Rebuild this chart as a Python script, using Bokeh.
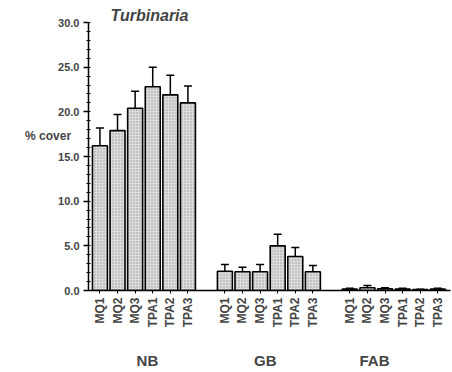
from bokeh.plotting import figure
from bokeh.models import (ColumnDataSource, Whisker, TeeHead, FixedTicker, LinearAxis,
                          NumeralTickFormatter, Range1d)
from bokeh.embed import file_html
from bokeh.resources import INLINE

groups = ["NB", "GB", "FAB"]
sites = ["MQ1", "MQ2", "MQ3", "TPA1", "TPA2", "TPA3"]
nb_mean = [16.2, 17.9, 20.4, 22.8, 21.9, 21.0]
nb_err = [2.0, 1.8, 1.9, 2.2, 2.2, 1.9]
gb_mean = [2.15, 2.1, 2.1, 5.0, 3.8, 2.1]
gb_err = [0.75, 0.5, 0.8, 1.3, 1.0, 0.7]
fab_mean = [0.15, 0.3, 0.2, 0.15, 0.1, 0.15]
fab_err = [0.1, 0.25, 0.1, 0.1, 0.05, 0.1]
y_ticks = [0, 5, 10, 15, 20, 25, 30]

PITCH = 10
GROUP_STEP = 71
xs, means, uppers, labels = [], [], [], {}
for g, (m, e) in enumerate([(nb_mean, nb_err), (gb_mean, gb_err), (fab_mean, fab_err)]):
    for k in range(len(sites)):
        x = g * GROUP_STEP + k * PITCH
        xs.append(x)
        means.append(m[k])
        uppers.append(m[k] + e[k])
        labels[x] = sites[k]

src = ColumnDataSource(dict(x=xs, top=means, lower=means, upper=uppers))

FONT = "Liberation Sans"

p = figure(width=452, height=372, output_backend="svg", toolbar_location=None,
           x_range=Range1d(-6.5, 199.2), y_range=Range1d(0, 30),
           min_border_left=88, min_border_right=2, min_border_top=22, min_border_bottom=82,
           x_axis_type=None, title="Turbinaria")
p.outline_line_color = None
p.grid.visible = False
p.background_fill_color = "white"
p.border_fill_color = "white"
p.title.text_font = FONT
p.title.text_font_style = "bold italic"
p.title.text_font_size = "16px"
p.title.align = "left"
p.title.offset = 22
p.title.standoff = -3

p.vbar(x="x", top="top", bottom=0, width=8.5, source=src,
       fill_color="#dcdcdc", line_color="black", line_width=1.6,
       hatch_pattern="dot", hatch_color="#555555", hatch_scale=3, hatch_weight=0.8, hatch_alpha=0.5)

w = Whisker(base="x", lower="lower", upper="upper", source=src, dimension="height",
            line_color="black", line_width=1.5,
            upper_head=TeeHead(size=8, line_width=1.5, line_color="black"), lower_head=None)
p.add_layout(w)

yax = p.yaxis[0]
yax.ticker = FixedTicker(ticks=y_ticks, minor_ticks=list(range(0, 31)))
yax.formatter = NumeralTickFormatter(format="0.0")
yax.major_label_text_font = FONT
yax.major_label_text_font_style = "bold"
yax.major_label_text_font_size = "11px"
yax.axis_line_width = 1.5
yax.major_tick_in = 0
yax.major_tick_out = 5
yax.minor_tick_in = 2
yax.minor_tick_out = 2
yax.major_tick_line_width = 1.3
yax.major_label_standoff = 4
yax.axis_label = "% cover\n\n\n"
yax.axis_label_orientation = "horizontal"
yax.axis_label_text_font = FONT
yax.axis_label_text_font_style = "bold"
yax.axis_label_text_font_size = "12px"
yax.axis_label_text_line_height = 1.0
yax.axis_label_standoff = -16

xax = LinearAxis(ticker=FixedTicker(ticks=xs, minor_ticks=[]))
xax.major_label_overrides = labels
xax.major_label_orientation = 3.14159265 / 2
xax.major_label_text_font = FONT
xax.major_label_text_font_style = "bold"
xax.major_label_text_font_size = "12px"
xax.axis_line_width = 1.5
xax.major_tick_in = 0
xax.major_tick_out = 3
xax.major_label_standoff = 4
p.add_layout(xax, "below")

group_pos = [27, 94, 156]
gax = LinearAxis(ticker=FixedTicker(ticks=group_pos, minor_ticks=[]))
gax.major_label_overrides = {pos: name for pos, name in zip(group_pos, groups)}
gax.major_label_text_font = FONT
gax.major_label_text_font_style = "bold"
gax.major_label_text_font_size = "15px"
gax.axis_line_color = None
gax.major_tick_line_color = None
gax.major_label_standoff = 15
p.add_layout(gax, "below")

open("out.html", "w").write(file_html(p, INLINE))
